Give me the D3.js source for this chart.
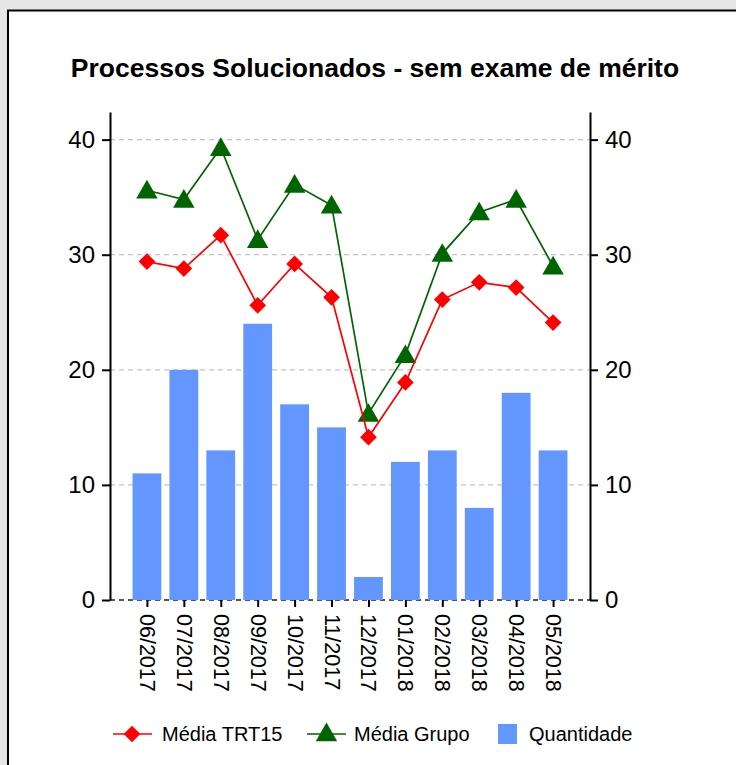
<!DOCTYPE html>
<html>
<head>
<meta charset="utf-8">
<script src="https://cdn.jsdelivr.net/npm/d3@7"></script>
<style>
  body { margin: 0; background: #e6e6e6; }
  text { font-family: "Liberation Sans", Arial, Helvetica, sans-serif; }
</style>
</head>
<body>
<div id="chart"></div>
<script>
var months = ["06/2017", "07/2017", "08/2017", "09/2017", "10/2017", "11/2017",
              "12/2017", "01/2018", "02/2018", "03/2018", "04/2018", "05/2018"];
var quantidade = [11, 20, 13, 24, 17, 15, 2, 12, 13, 8, 18, 13];
var mediaTRT15 = [29.4, 28.8, 31.7, 25.6, 29.2, 26.3, 14.15, 18.9, 26.1, 27.6, 27.15, 24.1];
var mediaGrupo = [35.6, 34.8, 39.3, 31.3, 36.1, 34.3, 16.2, 21.3, 30.1, 33.7, 34.8, 29.0];
var yTicks = [0, 10, 20, 30, 40];

var width = 736,
    height = 765;
var plot = { left: 110, right: 590, top: 112, bottom: 600 };
var colors = { trt: "#ff0000", grupo: "#006400", bar: "#6496ff" };

var svg = d3.select("#chart")
  .append("svg")
    .attr("width", width)
    .attr("height", height);

svg.append("rect")
  .attr("width", width)
  .attr("height", height)
  .attr("fill", "#e6e6e6");

svg.append("rect")
  .attr("x", 8)
  .attr("y", 10.5)
  .attr("width", width + 20)
  .attr("height", height + 20)
  .attr("fill", "#fff")
  .attr("stroke", "#000")
  .attr("stroke-width", 2);

svg.append("text")
  .attr("x", 375)
  .attr("y", 77)
  .attr("text-anchor", "middle")
  .attr("font-size", "26.5px")
  .attr("font-weight", "bold")
  .text("Processos Solucionados - sem exame de mérito");

var x = d3.scalePoint()
  .domain(months)
  .range([plot.left, plot.right])
  .padding(1);

var y = d3.scaleLinear()
  .domain([0, 42.4])
  .range([plot.bottom, plot.top]);

var barWidth = x.step() * 0.78;

// grid
svg.append("g")
  .selectAll("line")
  .data(yTicks)
  .enter()
    .append("line")
    .attr("x1", plot.left)
    .attr("x2", plot.right)
    .attr("y1", function(d) { return y(d); })
    .attr("y2", function(d) { return y(d); })
    .attr("stroke", function(d) { return d === 0 ? "#555" : "#c4c4c4"; })
    .attr("stroke-width", function(d) { return d === 0 ? 2 : 1.2; })
    .attr("stroke-dasharray", "5,4");

// bars
svg.append("g")
  .selectAll("rect")
  .data(quantidade)
  .enter()
    .append("rect")
    .attr("x", function(d, i) { return x(months[i]) - barWidth / 2; })
    .attr("y", function(d) { return y(d); })
    .attr("width", barWidth)
    .attr("height", function(d) { return y(0) - y(d); })
    .attr("fill", colors.bar);

// axes
var leftAxis = d3.axisLeft(y).tickValues(yTicks).tickSize(8).tickPadding(7).tickSizeOuter(0);
var rightAxis = d3.axisRight(y).tickValues(yTicks).tickSize(8).tickPadding(7).tickSizeOuter(0);

function styleAxis(g) {
  g.select(".domain").attr("stroke", "#000").attr("stroke-width", 2);
  g.selectAll(".tick line").attr("stroke", "#000").attr("stroke-width", 2);
  g.selectAll(".tick text")
    .attr("font-size", "24px")
    .attr("font-family", "Liberation Sans, Arial, sans-serif")
    .attr("fill", "#000");
}

svg.append("g")
  .attr("transform", "translate(" + plot.left + ",0)")
  .call(leftAxis)
  .call(styleAxis);

svg.append("g")
  .attr("transform", "translate(" + plot.right + ",0)")
  .call(rightAxis)
  .call(styleAxis);

var xAxis = d3.axisBottom(x).tickSize(7).tickSizeOuter(0);
var xg = svg.append("g")
  .attr("transform", "translate(0," + plot.bottom + ")")
  .call(xAxis);
xg.select(".domain").remove();
xg.selectAll(".tick line").attr("stroke", "#000").attr("stroke-width", 2);
xg.selectAll(".tick text")
  .attr("font-size", "21.5px")
  .attr("font-family", "Liberation Sans, Arial, sans-serif")
  .attr("fill", "#000")
  .attr("text-anchor", "start")
  .attr("transform", "rotate(90)")
  .attr("x", 14)
  .attr("y", 0)
  .attr("dy", "0.35em");

// lines
var line = d3.line()
  .x(function(d, i) { return x(months[i]); })
  .y(function(d) { return y(d); });

var diamond = d3.symbol().type(d3.symbolSquare).size(140);
var triangle = d3.symbol().type(d3.symbolTriangle).size(200);

svg.append("path")
  .datum(mediaGrupo)
  .attr("d", line)
  .attr("fill", "none")
  .attr("stroke", colors.grupo)
  .attr("stroke-width", 1.7);

svg.append("g")
  .selectAll("path")
  .data(mediaGrupo)
  .enter()
    .append("path")
    .attr("d", triangle)
    .attr("transform", function(d, i) { return "translate(" + x(months[i]) + "," + (y(d) + 2) + ")"; })
    .attr("fill", colors.grupo);

svg.append("path")
  .datum(mediaTRT15)
  .attr("d", line)
  .attr("fill", "none")
  .attr("stroke", colors.trt)
  .attr("stroke-width", 1.7);

svg.append("g")
  .selectAll("path")
  .data(mediaTRT15)
  .enter()
    .append("path")
    .attr("d", diamond)
    .attr("transform", function(d, i) { return "translate(" + x(months[i]) + "," + y(d) + ") rotate(45)"; })
    .attr("fill", colors.trt);

// legend
var legendY = 734;
var legend = svg.append("g").attr("font-size", "20px");

legend.append("line")
  .attr("x1", 113).attr("x2", 152)
  .attr("y1", legendY).attr("y2", legendY)
  .attr("stroke", colors.trt).attr("stroke-width", 1.7);
legend.append("path")
  .attr("d", diamond)
  .attr("transform", "translate(132," + legendY + ") rotate(45)")
  .attr("fill", colors.trt);
legend.append("text")
  .attr("x", 162).attr("y", legendY).attr("dy", "0.35em")
  .text("Média TRT15");

legend.append("line")
  .attr("x1", 307).attr("x2", 346)
  .attr("y1", legendY).attr("y2", legendY)
  .attr("stroke", colors.grupo).attr("stroke-width", 1.7);
legend.append("path")
  .attr("d", triangle)
  .attr("transform", "translate(326.5," + (legendY + 1) + ")")
  .attr("fill", colors.grupo);
legend.append("text")
  .attr("x", 354).attr("y", legendY).attr("dy", "0.35em")
  .text("Média Grupo");

legend.append("rect")
  .attr("x", 498).attr("y", legendY - 10)
  .attr("width", 19).attr("height", 20)
  .attr("fill", colors.bar);
legend.append("text")
  .attr("x", 529).attr("y", legendY).attr("dy", "0.35em")
  .text("Quantidade");
</script>
</body>
</html>
